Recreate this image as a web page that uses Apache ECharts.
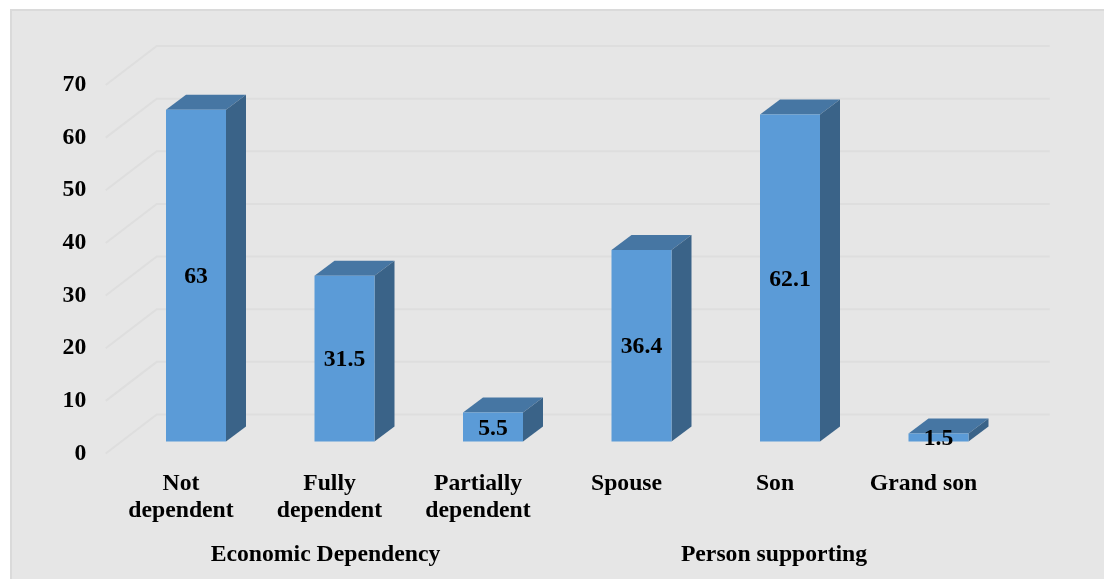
<!DOCTYPE html>
<html><head><meta charset="utf-8">
<style>html,body{margin:0;padding:0;background:#fff}#c{width:1104px;height:579px}</style>
<script src="https://cdn.jsdelivr.net/npm/echarts@6/dist/echarts.min.js"></script>
</head><body><div id="c"></div>
<script>
var categories = ['Not\ndependent','Fully\ndependent','Partially\ndependent','Spouse','Son','Grand son'];
var values = [63,31.5,5.5,36.4,62.1,1.5];
var groups = ['Economic Dependency','Person supporting'];
var yTicks = [0,10,20,30,40,50,60,70];

var FONT = '"Liberation Serif","Times New Roman",serif';
var FS = 23.7;
var chart = echarts.init(document.getElementById('c'));
var DX = 20, DY = 15;
chart.setOption({
  animation:false,
  backgroundColor:'#ffffff',
  graphic:[{type:'rect',z:-10,shape:{x:11,y:10,width:1100,height:580},style:{fill:'#e6e6e6',stroke:'#dadada',lineWidth:2}}],
  grid:{left:121.75,right:91.25,top:73,height:368.5,containLabel:false},
  xAxis:[
    {type:'category',data:categories,position:'bottom',
     axisLine:{show:false},axisTick:{show:false},
     axisLabel:{interval:0,margin:29,lineHeight:27,color:'#000',fontFamily:FONT,fontWeight:'bold',fontSize:FS,padding:[0,30,0,0],hideOverlap:false}},
    {type:'category',data:[
       {value:groups[0],textStyle:{padding:[0,38,0,0]}},
       {value:groups[1],textStyle:{padding:[0,32,0,0]}}],
     position:'bottom',offset:71,
     axisLine:{show:false},axisTick:{show:false},
     axisLabel:{interval:0,margin:29,lineHeight:27,color:'#000',fontFamily:FONT,fontWeight:'bold',fontSize:FS,hideOverlap:false}}
  ],
  yAxis:{type:'value',min:0,max:70,interval:10,
    axisLine:{show:false},axisTick:{show:false},splitLine:{show:false},
    axisLabel:{margin:35.5,color:'#000',fontFamily:FONT,fontWeight:'bold',fontSize:FS,verticalAlign:'top'}},
  series:[
    {type:'custom',coordinateSystem:'cartesian2d',xAxisIndex:0,silent:true,z:1,
     data:yTicks.map(function(v){return [0,v];}),
     encode:{y:1},
     renderItem:function(params,api){
       var y=api.coord([0,api.value(1)])[1];
       var cs=params.coordSys;
       return {type:'polyline',shape:{points:[[cs.x-16,y+12],[cs.x+35,y-27],[cs.x+cs.width+37,y-27]]},
         style:{stroke:'#dedede',lineWidth:2,fill:null}};
     }},
    {type:'custom',coordinateSystem:'cartesian2d',xAxisIndex:0,silent:true,z:2,
     data:values.map(function(v,i){return [i,v];}),
     encode:{x:0,y:1},
     renderItem:function(params,api){
       var v=api.value(1);
       var top=api.coord([api.value(0),v]);
       var base=api.coord([api.value(0),0]);
       var w=api.size([1,0])[0]*60/148.5;
       var l=top[0]-w/2,r=top[0]+w/2,t=top[1],b=base[1];
       return {type:'group',children:[
         {type:'polygon',shape:{points:[[l,t],[l+DX,t-DY],[r+DX,t-DY],[r,t]]},style:{fill:'#4676a3'}},
         {type:'polygon',shape:{points:[[r,t],[r+DX,t-DY],[r+DX,b-DY],[r,b]]},style:{fill:'#3a6388'}},
         {type:'rect',shape:{x:l,y:t,width:w,height:b-t},style:{fill:'#5b9bd7'}},
         {type:'text',z2:10,x:top[0],y:(t+b)/2+1.5,style:{text:String(v),fill:'#000',font:'bold '+FS+'px '+FONT,align:'center',verticalAlign:'middle'}}
       ]};
     }}
  ]
});
</script></body></html>
